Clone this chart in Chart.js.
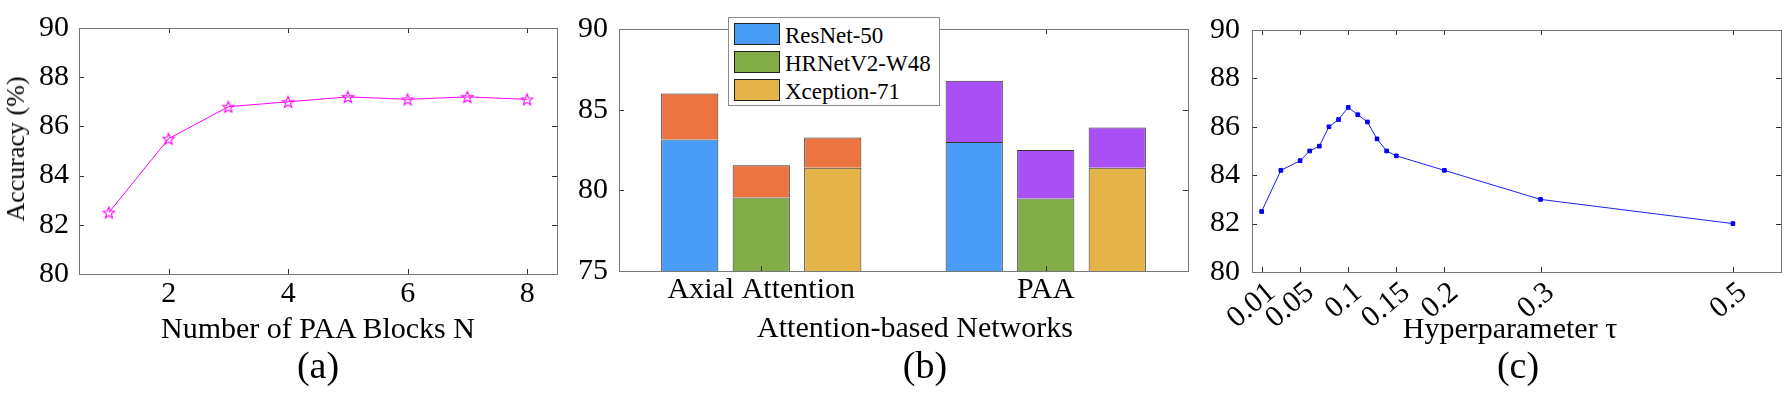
<!DOCTYPE html>
<html>
<head>
<meta charset="utf-8">
<script src="https://cdn.jsdelivr.net/npm/chart.js@4.4.0/dist/chart.umd.min.js"></script>
<style>
  html, body { margin: 0; padding: 0; background: #fff; }
  #wrap { position: relative; width: 1786px; height: 394px; overflow: hidden;
          font-family: "Liberation Serif", "Times New Roman", serif; color: #000; }
  canvas { position: absolute; top: 0; }
  .txt { position: absolute; white-space: nowrap; line-height: 1; }
  .title { font-size: 30px; transform: translateX(-50%); }
  .caption { font-size: 38px; transform: translateX(-50%); }
  #legend { position: absolute; left: 728px; top: 17px; width: 210px; height: 87px;
            border: 1px solid #8a8a8a; background: #fff; }
  .sw { position: absolute; left: 5px; width: 44px; height: 20px; border: 1px solid #222; }
  .lt { position: absolute; left: 56px; font-size: 23px; line-height: 1; }
</style>
</head>
<body>
<div id="wrap">
  <canvas id="chartA" width="570" height="394" style="left:0px"></canvas>
  <canvas id="chartB" width="640" height="394" style="left:560px"></canvas>
  <canvas id="chartC" width="596" height="394" style="left:1190px"></canvas>

  <div class="txt" style="left:16px; top:149px; font-size:26px; transform:translate(-50%,-50%) rotate(-90deg);">Accuracy (%)</div>
  <div class="txt title" style="left:318px; top:313px;">Number of PAA Blocks N</div>
  <div class="txt title" style="left:915px; top:312px;">Attention-based Networks</div>
  <div class="txt title" style="left:1510px; top:313px;">Hyperparameter &tau;</div>
  <div class="txt caption" style="left:318px; top:346px;">(a)</div>
  <div class="txt caption" style="left:925px; top:346px;">(b)</div>
  <div class="txt caption" style="left:1518px; top:346px;">(c)</div>
  <div id="legend"></div>
</div>

<script>
// (a) accuracy vs number of PAA blocks
const blockCounts = [1, 2, 3, 4, 5, 6, 7, 8];
const accByBlocks = [82.5, 85.5, 86.8, 87.0, 87.2, 87.1, 87.2, 87.1];
const blockTicks = [2, 4, 6, 8];
const accTicksA = [80, 82, 84, 86, 88, 90];

// (b) backbones with / without attention gain
const networks = ['Axial Attention', 'PAA'];
const backbones = ['ResNet-50', 'HRNetV2-W48', 'Xception-71'];
const resnetBase = [83.15, 83.0];
const resnetFull = [86.0, 86.8];
const hrnetBase = [79.55, 79.5];
const hrnetFull = [81.55, 82.5];
const xceptionBase = [81.4, 81.4];
const xceptionFull = [83.28, 83.9];
const accTicksB = [75, 80, 85, 90];

// (c) accuracy vs tau
const tauValues = [0.01, 0.03, 0.05, 0.06, 0.07, 0.08, 0.09, 0.1, 0.11, 0.12, 0.13, 0.14, 0.15, 0.2, 0.3, 0.5];
const accByTau = [82.5, 84.2, 84.6, 85.0, 85.2, 86.0, 86.3, 86.8, 86.5, 86.2, 85.5, 85.0, 84.8, 84.2, 83.0, 82.0];
const tauTicks = [0.01, 0.05, 0.1, 0.15, 0.2, 0.3, 0.5];
const accTicksC = [80, 82, 84, 86, 88, 90];

const serif = '"Liberation Serif", "Times New Roman", serif';
Chart.defaults.font.family = serif;
Chart.defaults.color = '#000';

const backboneColors = ['#4A9DF6', '#82AC48', '#E4B448'];
const gainColors = ['#EC7440', '#A850F6'];

// box round the plot area with inward tick marks on all sides
const framePlugin = {
    id: 'frame',
    afterDraw(chart) {
        const ctx = chart.ctx;
        const a = chart.chartArea;
        const xs = chart.scales.x, ys = chart.scales.y;
        const len = 5;
        ctx.save();
        ctx.lineWidth = 1;
        ctx.strokeStyle = '#333';
        ctx.beginPath();
        xs.ticks.forEach(function(t, i) {
            const p = Math.round(xs.getPixelForTick(i)) + 0.5;
            ctx.moveTo(p, a.bottom); ctx.lineTo(p, a.bottom - len);
            ctx.moveTo(p, a.top); ctx.lineTo(p, a.top + len);
        });
        ys.ticks.forEach(function(t, i) {
            const p = Math.round(ys.getPixelForTick(i)) + 0.5;
            ctx.moveTo(a.left, p); ctx.lineTo(a.left + len, p);
            ctx.moveTo(a.right, p); ctx.lineTo(a.right - len, p);
        });
        ctx.stroke();
        ctx.strokeStyle = '#777';
        ctx.strokeRect(Math.round(a.left) + 0.5, Math.round(a.top) + 0.5,
                       Math.round(a.width), Math.round(a.height));
        ctx.restore();
    }
};

function valueAxis(min, max, ticks, width, pad) {
    return {
        type: 'linear', min: min, max: max, stacked: false,
        grid: { display: false, drawTicks: false },
        border: { display: false },
        afterBuildTicks: function(ax) { ax.ticks = ticks.map(function(v) { return { value: v }; }); },
        afterFit: function(ax) { ax.width = width; },
        ticks: { padding: pad, font: { size: 30 }, callback: function(v) { return String(v); } }
    };
}

function starMarker(color, r) {
    const s = Math.ceil(r * 2 + 4);
    const c = document.createElement('canvas');
    c.width = s; c.height = s;
    const g = c.getContext('2d');
    g.strokeStyle = color;
    g.lineWidth = 1.1;
    g.beginPath();
    for (let i = 0; i < 10; i++) {
        const rad = i % 2 === 0 ? r : r * 0.42;
        const ang = -Math.PI / 2 + i * Math.PI / 5;
        const px = s / 2 + rad * Math.cos(ang), py = s / 2 + 0.6 + rad * Math.sin(ang);
        if (i === 0) g.moveTo(px, py); else g.lineTo(px, py);
    }
    g.closePath();
    g.stroke();
    return c;
}

// (a)
new Chart(document.getElementById('chartA'), {
    type: 'line',
    data: {
        labels: blockCounts,
        datasets: [{
            data: blockCounts.map(function(n, i) { return { x: n, y: accByBlocks[i] }; }),
            borderColor: '#ff00ff',
            borderWidth: 1,
            pointStyle: starMarker('#ff00ff', 6),
            tension: 0
        }]
    },
    options: {
        responsive: false, animation: false,
        layout: { padding: { left: 0, right: 13, top: 12, bottom: 0 } },
        plugins: { legend: { display: false }, tooltip: { enabled: false } },
        scales: {
            x: {
                type: 'linear', min: 0.5, max: 8.5,
                grid: { display: false, drawTicks: false },
                border: { display: false },
                afterBuildTicks: function(ax) { ax.ticks = blockTicks.map(function(v) { return { value: v }; }); },
                afterFit: function(ax) { ax.height = 120; },
                ticks: { padding: 2, maxRotation: 0, font: { size: 30 }, callback: function(v) { return String(v); } }
            },
            y: valueAxis(80, 90, accTicksA, 79, 10)
        }
    },
    plugins: [framePlugin]
});

// (b)
function floating(base, full) {
    return base.map(function(b, i) { return [b, full[i]]; });
}
const baseSets = [resnetBase, hrnetBase, xceptionBase];
const fullSets = [resnetFull, hrnetFull, xceptionFull];
const barSets = [];
backbones.forEach(function(name, k) {
    barSets.push({
        label: name, data: baseSets[k], stack: 's' + k,
        backgroundColor: backboneColors[k], borderColor: '#333', borderWidth: 1, borderSkipped: false
    });
    barSets.push({
        label: name + ' +', data: floating(baseSets[k], fullSets[k]), stack: 's' + k,
        backgroundColor: gainColors, borderColor: '#333', borderWidth: 1, borderSkipped: 'start'
    });
});

new Chart(document.getElementById('chartB'), {
    type: 'bar',
    data: { labels: networks, datasets: barSets },
    options: {
        responsive: false, animation: false,
        barPercentage: 0.8,
        categoryPercentage: 0.754,
        layout: { padding: { left: 0, right: 12, top: 9, bottom: 0 } },
        plugins: { legend: { display: false }, tooltip: { enabled: false } },
        scales: {
            x: {
                grid: { display: false, drawTicks: false },
                border: { display: false },
                afterFit: function(ax) { ax.height = 123; },
                ticks: { padding: 1, maxRotation: 0, font: { size: 30 } }
            },
            y: valueAxis(75, 90, accTicksB, 59, 11)
        }
    },
    plugins: [framePlugin]
});

// legend for (b)
const legend = document.getElementById('legend');
backbones.forEach(function(name, k) {
    const sw = document.createElement('div');
    sw.className = 'sw';
    sw.style.top = (5 + k * 28) + 'px';
    sw.style.background = backboneColors[k];
    legend.appendChild(sw);
    const lt = document.createElement('div');
    lt.className = 'lt';
    lt.style.top = (6 + k * 28) + 'px';
    lt.textContent = name;
    legend.appendChild(lt);
});

// (c)
new Chart(document.getElementById('chartC'), {
    type: 'line',
    data: {
        datasets: [{
            data: tauValues.map(function(t, i) { return { x: t, y: accByTau[i] }; }),
            borderColor: '#1f1fff',
            borderWidth: 1,
            pointStyle: 'rect',
            pointRadius: 2.6,
            pointBorderWidth: 1,
            pointBackgroundColor: '#0000f0',
            pointBorderColor: '#0000f0',
            tension: 0
        }]
    },
    options: {
        responsive: false, animation: false,
        layout: { padding: { left: 0, right: 5, top: 8, bottom: 0 } },
        plugins: { legend: { display: false }, tooltip: { enabled: false } },
        scales: {
            x: {
                type: 'linear', min: 0, max: 0.55,
                grid: { display: false, drawTicks: false },
                border: { display: false },
                afterBuildTicks: function(ax) { ax.ticks = tauTicks.map(function(v) { return { value: v }; }); },
                afterFit: function(ax) { ax.height = 122; },
                ticks: { padding: 3, labelOffset: 10, autoSkip: false, minRotation: 40, maxRotation: 40,
                         font: { size: 30 }, callback: function(v) { return String(v); } }
            },
            y: valueAxis(80, 90, accTicksC, 62, 12)
        }
    },
    plugins: [framePlugin]
});
</script>
</body>
</html>
